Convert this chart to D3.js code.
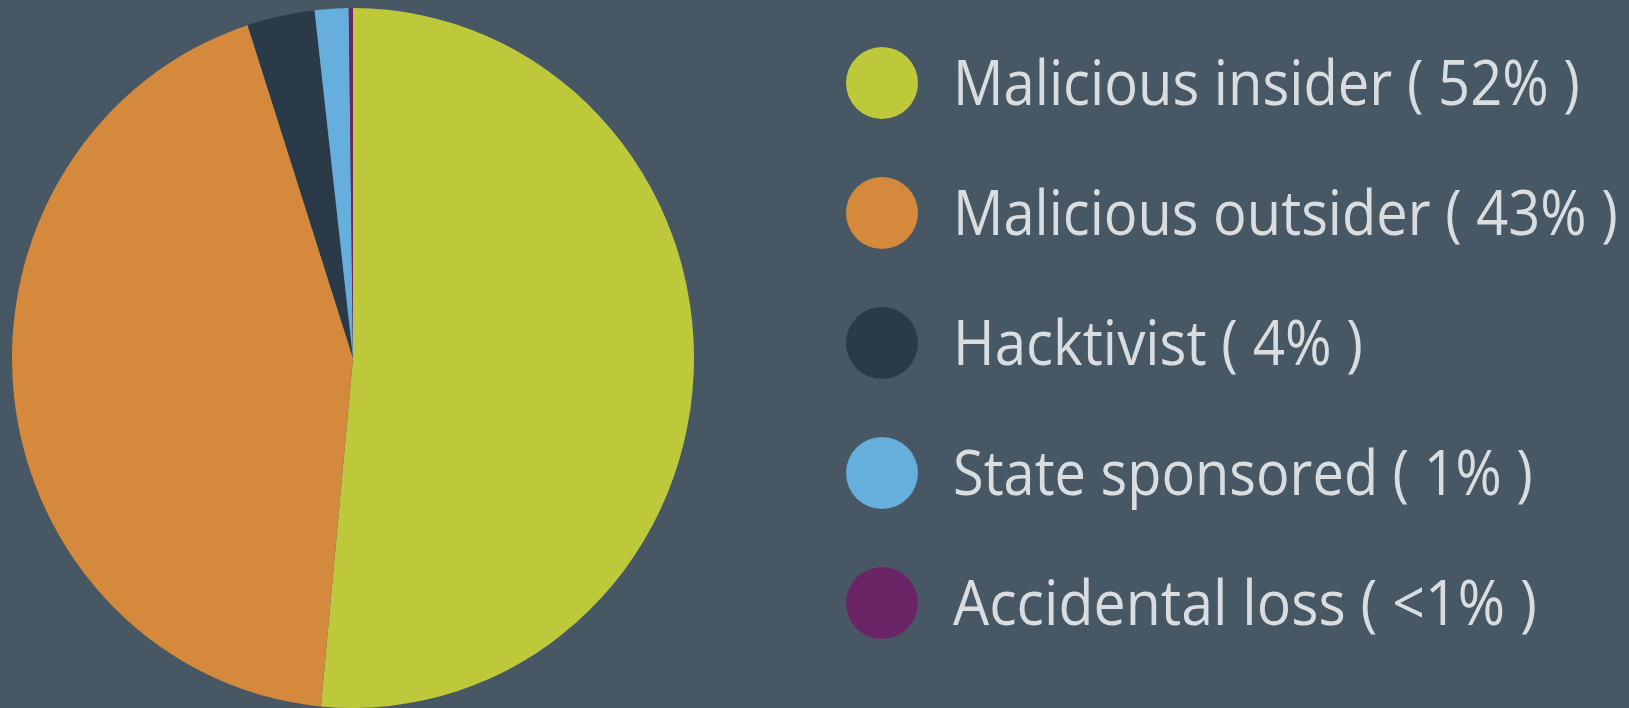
<!DOCTYPE html>
<html>
<head>
<meta charset="utf-8">
<script src="https://cdn.jsdelivr.net/npm/d3@7"></script>
<style>
  html, body { margin: 0; padding: 0; background: #475764; }
  svg { display: block; }
</style>
</head>
<body>
<svg id="chart" width="1629" height="708"></svg>
<script>
// Data
const categories = ["Malicious insider", "Malicious outsider", "Hacktivist", "State sponsored", "Accidental loss"];
const values = [51.5, 43.5, 3.2, 1.6, 0.2];
const labelTexts = ["( 52% )", "( 43% )", "( 4% )", "( 1% )", "( <1% )"];
const colors = ["#BDC93B", "#D4893C", "#2B3A48", "#66AEDB", "#6B2466"];

const svg = d3.select("#chart");
const W = 1629, H = 708;
svg.append("rect").attr("width", W).attr("height", H).attr("fill", "#475764");

// Pie
const cx = 353, cy = 358, rx = 341, ry = 350;
const pie = d3.pie().sort(null).value(d => d)(values);
const arc = d3.arc().innerRadius(0).outerRadius(rx);
const color = d3.scaleOrdinal().domain(categories).range(colors);

const g = svg.append("g").attr("transform", `translate(${cx},${cy}) scale(1,${ry / rx})`);
g.selectAll("path")
  .data(pie)
  .join("path")
  .attr("d", arc)
  .attr("fill", (d, i) => color(categories[i]));

// Legend
const legendY = d3.scalePoint().domain(categories).range([83, 603]);
const legendX = 882;
const textWidths = [627, 665, 410, 580, 584];

const lg = svg.append("g");
const items = lg.selectAll("g.item")
  .data(categories)
  .join("g")
  .attr("class", "item")
  .attr("transform", d => `translate(${legendX},${legendY(d)})`);

items.append("circle")
  .attr("r", 36)
  .attr("fill", d => color(d));

items.append("text")
  .attr("fill", "#D9DDE0")
  .attr("font-family", "'Open Sans', 'Noto Sans', sans-serif")
  .attr("font-size", 62)
  .text((d, i) => `${d} ${labelTexts[i]}`)
  .each(function (d, i) {
    const natural = this.getComputedTextLength();
    const sx = textWidths[i] / natural;
    d3.select(this).attr("transform", `translate(71,21.5) scale(${sx},1)`);
  });
</script>
</body>
</html>
